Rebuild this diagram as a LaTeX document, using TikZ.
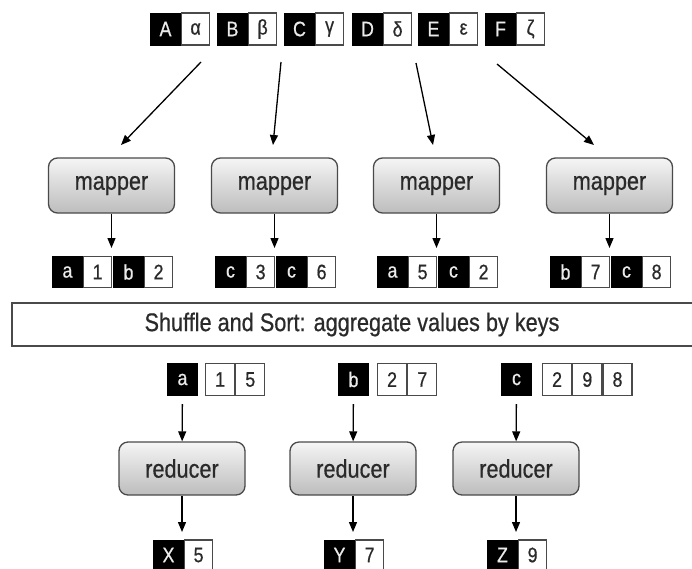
\documentclass[tikz,border=0pt]{standalone}
\usepackage{fontspec}
\setmainfont[FakeStretch=0.85,FakeBold=0.6]{Liberation Sans}
\usetikzlibrary{arrows.meta}
\definecolor{edge}{HTML}{4A4A4A}
\definecolor{ink}{HTML}{2A2A2A}
\begin{document}
\begin{tikzpicture}[x=1pt,y=-1pt,
  kbox/.style={fill=black, draw=black, line width=1pt, minimum width=30pt, minimum height=#1, inner sep=0pt,
    text=white!92!black, font=\fontsize{21}{21}\selectfont, anchor=west},
  kbox/.default=31pt,
  vbox/.style={fill=white, draw=edge, line width=1.2pt, minimum width=28pt, minimum height=#1, inner sep=0pt,
    text=ink, font=\fontsize{21}{21}\selectfont, anchor=west},
  vbox/.default=31pt,
  proc/.style={rounded corners=9pt, draw=edge, line width=1.3pt, top color=white!96!black, bottom color=black!26,
    minimum width=126pt, minimum height=#1, inner sep=0pt, text=ink, font=\fontsize{25.5}{25.5}\selectfont},
  arr/.style={-{Triangle[length=10pt,width=8pt]}, line width=1.3pt, draw=black}
]
\useasboundingbox (0,0) rectangle (692,568);
\clip (0,0) rectangle (692,568);
\fill[white] (0,0) rectangle (692,568);

% ---------- top input pairs ----------
\node[kbox=32pt] (kA) at (150,29) {A}; \node[vbox=32pt] (vA) at (kA.east) {α};
\node[kbox=32pt] (kB) at (217,29) {B}; \node[vbox=32pt] (vB) at (kB.east) {β};
\node[kbox=32pt] (kC) at (284,29) {C}; \node[vbox=32pt] (vC) at (kC.east) {γ};
\node[kbox=32pt] (kD) at (352,29) {D}; \node[vbox=32pt] (vD) at (kD.east) {δ};
\node[kbox=32pt] (kE) at (418,29) {E}; \node[vbox=32pt] (vE) at (kE.east) {ε};
\node[kbox=32pt] (kF) at (485,29) {F}; \node[vbox=32pt] (vF) at (kF.east) {ζ};

% ---------- mappers ----------
\node[proc=55pt] (m1) at (111.5,185.5) {mapper};
\node[proc=55pt] (m2) at (274.5,185.5) {mapper};
\node[proc=55pt] (m3) at (436.5,185.5) {mapper};
\node[proc=55pt] (m4) at (609.5,185.5) {mapper};

% diagonal input arrows (free ends)
\coordinate (s1) at (201,62);  \coordinate (e1) at (121,145);
\coordinate (s2) at (281,62);  \coordinate (e2) at (273,145);
\coordinate (s3) at (416,63);  \coordinate (e3) at (433,145);
\coordinate (s4) at (497,64);  \coordinate (e4) at (594,145);
\draw[arr] (s1) -- (e1);
\draw[arr] (s2) -- (e2);
\draw[arr] (s3) -- (e3);
\draw[arr] (s4) -- (e4);

% ---------- mapper outputs ----------
\node[kbox] (o1a) at (52,272)  {a}; \node[vbox] (o1b) at (o1a.east) {1};
\node[kbox] (o1c) at (113,272) {b}; \node[vbox] (o1d) at (o1c.east) {2};
\node[kbox] (o2a) at (215,272) {c}; \node[vbox] (o2b) at (o2a.east) {3};
\node[kbox] (o2c) at (276,272) {c}; \node[vbox] (o2d) at (o2c.east) {6};
\node[kbox] (o3a) at (377,272) {a}; \node[vbox] (o3b) at (o3a.east) {5};
\node[kbox] (o3c) at (438,272) {c}; \node[vbox] (o3d) at (o3c.east) {2};
\node[kbox] (o4a) at (550,272) {b}; \node[vbox] (o4b) at (o4a.east) {7};
\node[kbox] (o4c) at (611,272) {c}; \node[vbox] (o4d) at (o4c.east) {8};

\coordinate (t1) at (111.5,257);
\coordinate (t2) at (274.5,257);
\coordinate (t3) at (436.5,257);
\coordinate (t4) at (609.5,257);
\draw[arr, shorten >=9pt] (m1) -- (t1);
\draw[arr, shorten >=9pt] (m2) -- (t2);
\draw[arr, shorten >=9pt] (m3) -- (t3);
\draw[arr, shorten >=9pt] (m4) -- (t4);

% ---------- shuffle box ----------
\node[draw=edge, line width=1.3pt, fill=white, minimum width=688pt, minimum height=43pt, inner sep=0pt,
  text=ink, font=\fontsize{25.5}{25.5}\selectfont] (shuf) at (356,324.5)
  {\hspace*{-8pt}Shuffle and Sort: aggregate values by keys};

% ---------- reducer inputs ----------
\node[kbox=32pt] (ka) at (167,379.5) {a};
\node[vbox=32pt, minimum width=29pt] (ka1) at (205,379.5) {1};
\node[vbox=32pt, minimum width=29pt] (ka2) at (ka1.east) {5};
\node[kbox=32pt] (kb) at (338,379.5) {b};
\node[vbox=32pt, minimum width=29pt] (kb1) at (377,379.5) {2};
\node[vbox=32pt, minimum width=29pt] (kb2) at (kb1.east) {7};
\node[kbox=32pt] (kc) at (501,379.5) {c};
\node[vbox=32pt, minimum width=29pt] (kc1) at (542,379.5) {2};
\node[vbox=32pt, minimum width=29pt] (kc2) at (kc1.east) {9};
\node[vbox=32pt, minimum width=29pt] (kc3) at (kc2.east) {8};

% ---------- reducers ----------
\node[proc=53pt] (r1) at (182,468.5) {reducer};
\node[proc=53pt] (r2) at (353,468.5) {reducer};
\node[proc=53pt] (r3) at (516,468.5) {reducer};

\draw[arr, shorten <=8pt] (ka) -- (r1);
\draw[arr, shorten <=8pt] (kb) -- (r2);
\draw[arr, shorten <=8pt] (kc) -- (r3);

% ---------- outputs ----------
\node[kbox=30pt] (xX) at (153,555) {X}; \node[vbox=30pt] (x5) at (xX.east) {5};
\node[kbox=30pt] (xY) at (324,555) {Y}; \node[vbox=30pt] (x7) at (xY.east) {7};
\node[kbox=30pt] (xZ) at (487,555) {Z}; \node[vbox=30pt] (x9) at (xZ.east) {9};

\coordinate (b1) at (182,540);
\coordinate (b2) at (353,540);
\coordinate (b3) at (516,540);
\draw[arr, shorten >=8pt] (r1) -- (b1);
\draw[arr, shorten >=8pt] (r2) -- (b2);
\draw[arr, shorten >=8pt] (r3) -- (b3);
\end{tikzpicture}
\end{document}
